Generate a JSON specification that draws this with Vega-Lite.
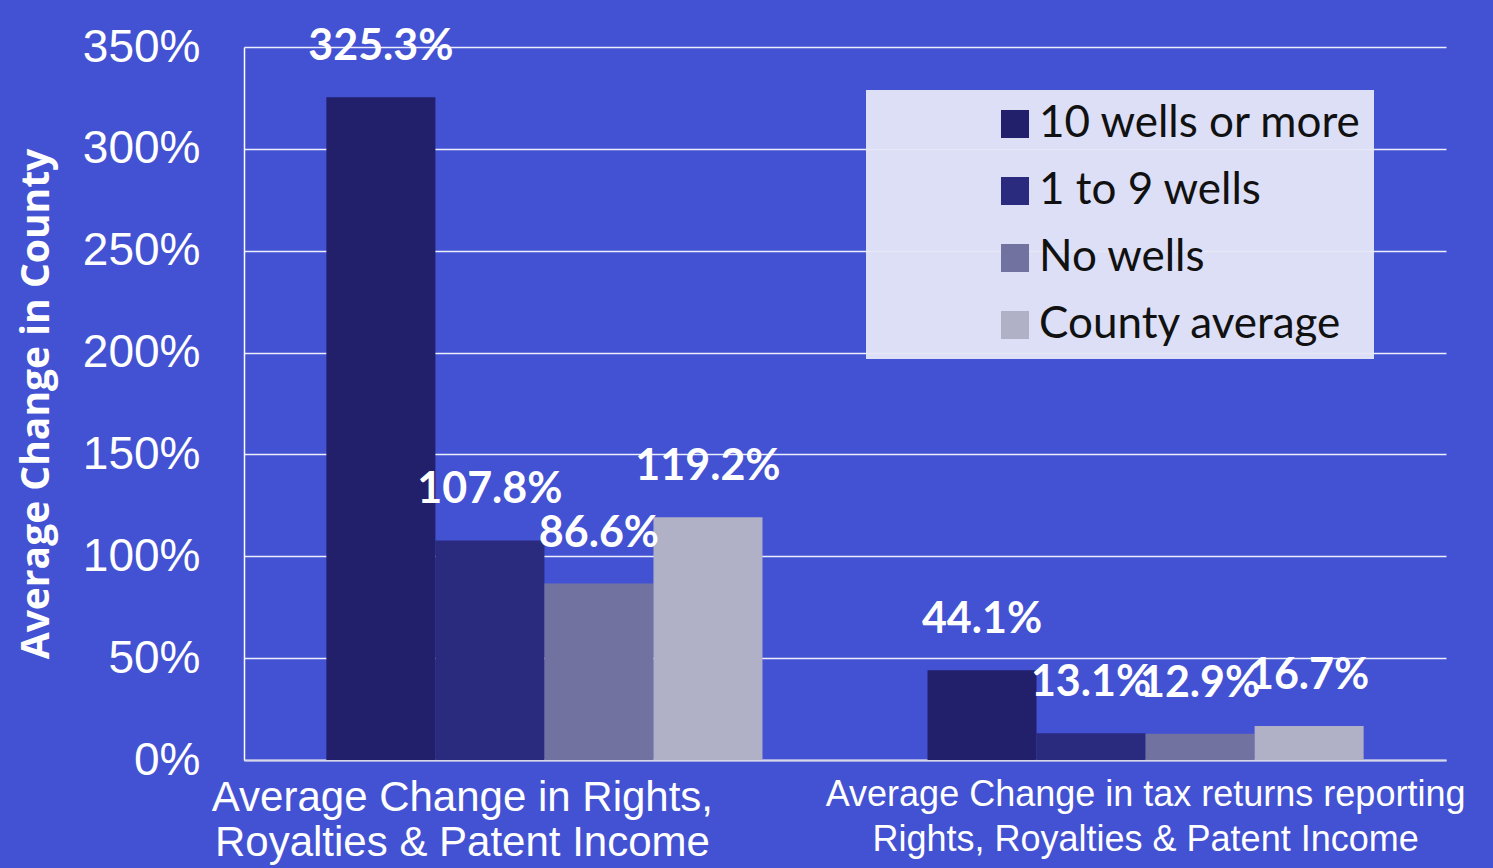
{
  "$schema": "https://vega.github.io/schema/vega-lite/v6.json",
  "width": 1202,
  "height": 713,
  "autosize": {"type": "none"},
  "padding": {"left": 244, "top": 47, "right": 47, "bottom": 108},
  "background": "#4352d3",
  "config": {"view": {"stroke": null}, "font": "Liberation Sans"},
  "data": {
    "values": [
      {"measure": "Average Change in Rights, Royalties & Patent Income", "group": "10 wells or more", "value": 325.3},
      {"measure": "Average Change in Rights, Royalties & Patent Income", "group": "1 to 9 wells", "value": 107.8},
      {"measure": "Average Change in Rights, Royalties & Patent Income", "group": "No wells", "value": 86.6},
      {"measure": "Average Change in Rights, Royalties & Patent Income", "group": "County average", "value": 119.2},
      {"measure": "Average Change in tax returns reporting Rights, Royalties & Patent Income", "group": "10 wells or more", "value": 44.1},
      {"measure": "Average Change in tax returns reporting Rights, Royalties & Patent Income", "group": "1 to 9 wells", "value": 13.1},
      {"measure": "Average Change in tax returns reporting Rights, Royalties & Patent Income", "group": "No wells", "value": 12.9},
      {"measure": "Average Change in tax returns reporting Rights, Royalties & Patent Income", "group": "County average", "value": 16.7}
    ]
  },
  "transform": [{"calculate": "format(datum.value, '.1f') + '%'", "as": "label"}],
  "encoding": {
    "x": {
      "field": "measure",
      "type": "nominal",
      "sort": null,
      "scale": {"paddingInner": 0.2745, "paddingOuter": 0.137},
      "axis": {
        "title": null,
        "labelAngle": 0,
        "labelColor": "white",
        "labelFont": "Liberation Sans",
        "labelFontSize": {"condition": {"test": "indexof(datum.value, 'tax') < 0", "value": 42}, "value": 36},
        "labelOffset": {"condition": {"test": "indexof(datum.value, 'tax') < 0", "value": -82}, "value": 0},
        "labelExpr": "indexof(datum.value, 'tax') < 0 ? ['Average  Change in Rights,', 'Royalties & Patent Income'] : ['Average Change in tax returns reporting', 'Rights, Royalties & Patent Income']",
        "labelLineHeight": 45,
        "labelBaseline": "top",
        "labelPadding": 17,
        "labelLimit": 0,
        "labelOverlap": false,
        "ticks": false,
        "domain": true,
        "domainColor": "#d6d8ea",
        "domainWidth": 2,
        "grid": false
      }
    },
    "xOffset": {
      "field": "group",
      "type": "nominal",
      "sort": ["10 wells or more", "1 to 9 wells", "No wells", "County average"],
      "scale": {"paddingInner": 0, "paddingOuter": 0}
    },
    "y": {
      "field": "value",
      "type": "quantitative",
      "scale": {"domain": [0, 350], "nice": false},
      "axis": {
        "values": [0, 50, 100, 150, 200, 250, 300, 350],
        "labelExpr": "datum.value + '%'",
        "labelFont": "Liberation Sans",
        "labelFontSize": 46,
        "labelColor": "white",
        "labelPadding": 44,
        "ticks": false,
        "domain": true,
        "domainColor": "white",
        "domainWidth": 1.5,
        "grid": true,
        "gridColor": "white",
        "gridWidth": 1.5,
        "gridOpacity": 0.9,
        "title": "Average Change in County",
        "titleFont": "Open Sans",
        "titleFontWeight": "bold",
        "titleFontSize": 39,
        "titleColor": "white",
        "titlePadding": 26
      }
    }
  },
  "layer": [
    {
      "mark": {"type": "bar"},
      "encoding": {
        "color": {
          "field": "group",
          "type": "nominal",
          "sort": ["10 wells or more", "1 to 9 wells", "No wells", "County average"],
          "scale": {
            "domain": ["10 wells or more", "1 to 9 wells", "No wells", "County average"],
            "range": ["#22206a", "#2a2a7e", "#7272a0", "#b0b0c6"]
          },
          "legend": {
            "orient": "none",
            "legendX": 622,
            "legendY": 43,
            "title": null,
            "fillColor": "rgba(230,232,248,0.94)",
            "strokeColor": null,
            "padding": 12,
            "symbolType": "square",
            "symbolSize": 784,
            "symbolStrokeWidth": 0,
            "symbolOpacity": 1,
            "symbolOffset": 115,
            "labelFont": "Lato",
            "labelFontSize": 44,
            "labelColor": "#111111",
            "labelOffset": 2,
            "labelLimit": 0,
            "rowPadding": 23
          }
        }
      }
    },
    {
      "mark": {
        "type": "text",
        "font": "Lato",
        "fontWeight": "bold",
        "fontSize": 43,
        "color": "white",
        "baseline": "middle",
        "dy": -50
      },
      "encoding": {"text": {"field": "label", "type": "nominal"}}
    }
  ]
}
